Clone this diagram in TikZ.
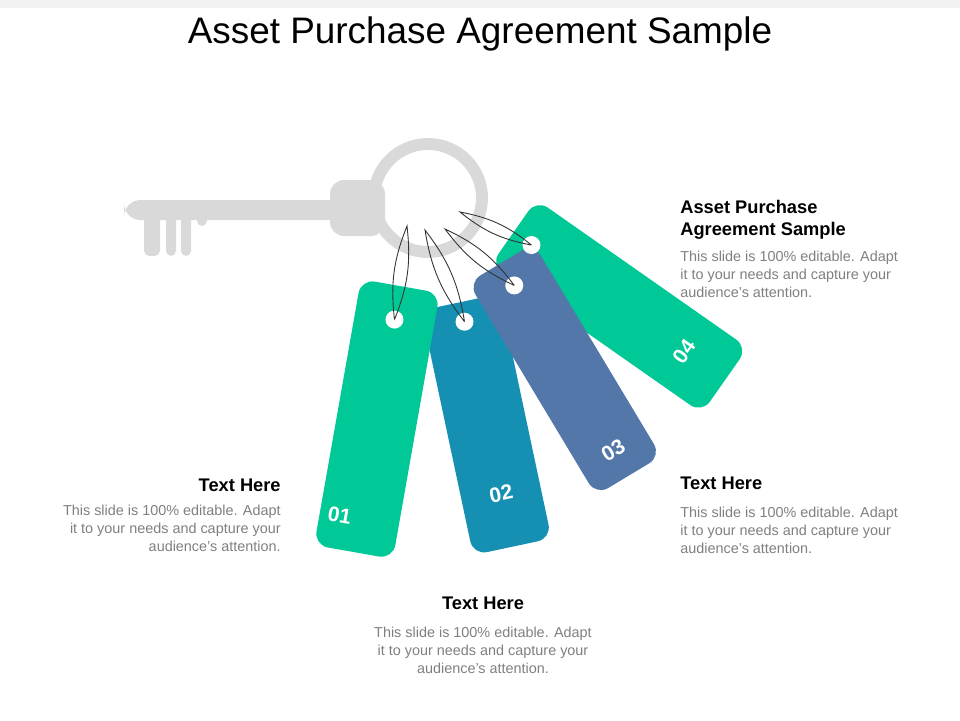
\documentclass[tikz,border=0pt]{standalone}
\usepackage{fontspec}
\setmainfont{Liberation Sans}
\definecolor{tagGreen}{HTML}{00C896}
\definecolor{tagTeal}{HTML}{1590B2}
\definecolor{tagSlate}{HTML}{5377A8}
\definecolor{keyGray}{HTML}{D9D9D9}
\definecolor{bodyGray}{HTML}{7F7F7F}
\tikzset{
  tagbox/.style={rounded corners=8, draw=none},
  taghole/.style={fill=white, draw=none},
  wire/.style={draw=black!80, line width=0.5pt},
  tagnum/.style={text=white, font=\bfseries\fontsize{12}{12}\selectfont},
  headtxt/.style={font=\bfseries\fontsize{10.4}{12.6}\selectfont, inner sep=0pt},
  bodytxt/.style={text=bodyGray, font=\fontsize{8.2}{10.2}\selectfont, inner sep=0pt}
}
\begin{document}
\begin{tikzpicture}[x=0.02cm, y=-0.02cm]
  \useasboundingbox (0,0) rectangle (960,720);
  \fill[black!5] (0,0) rectangle (960,8);
  % Title
  \node[font=\fontsize{21}{24}\selectfont] (title) at (480,34) {Asset Purchase Agreement Sample};

  % Key
  \fill[keyGray, rounded corners=9.5] (124,200) rectangle (345,220);
  \fill[keyGray, rounded corners=8] (330,180) rectangle (385,236);
  \fill[keyGray, rounded corners=3] (144,212) rectangle (160,256);
  \fill[keyGray, rounded corners=3] (166,212) rectangle (176,256);
  \fill[keyGray, rounded corners=3] (181,212) rectangle (191,256);
  \fill[keyGray, rounded corners=3] (197,212) rectangle (207,226);
  \draw[keyGray, line width=12*0.567pt] (428,198) circle (54);

  % Tags (back to front)
  \begin{scope}[shift={(520,237)}, rotate=55]
    \fill[tagGreen, tagbox] (-40,-8) rectangle (40,250);
    \coordinate (h4) at (0,14);
    \node[tagnum, rotate=55] (n4) at (0,200) {04};
  \end{scope}
  \begin{scope}[shift={(462,310)}, rotate=12]
    \fill[tagTeal, tagbox] (-40,-8) rectangle (40,242);
    \coordinate (h2) at (0,12);
    \node[tagnum, rotate=12] (n2) at (0,188) {02};
  \end{scope}
  \begin{scope}[shift={(505,270)}, rotate=31]
    \fill[tagSlate, tagbox] (-38,-8) rectangle (38,240);
    \coordinate (h3) at (0,18);
    \node[tagnum, rotate=31] (n3) at (0,210) {03};
  \end{scope}
  \begin{scope}[shift={(399,294)}, rotate=-10]
    \fill[tagGreen, tagbox] (-40,-8) rectangle (40,262);
    \coordinate (h1) at (0,26);
    \node[tagnum, rotate=-10] (n1) at (-20,228) {01};
  \end{scope}
  \foreach \h in {h1,h2,h3,h4}
    \fill[taghole] (\h) circle (9);

  % Wires to the ring
  \coordinate (r1) at (407,226);
  \coordinate (r2) at (425,230);
  \coordinate (r3) at (445,229);
  \coordinate (r4) at (460,212);
  \foreach \i in {1,2,3,4}
    \draw[wire] (h\i) to[bend left=14] (r\i) to[bend left=14] (h\i);

  % Text blocks
  \node[headtxt, anchor=north west, align=left] (head4) at (680,200) {Asset Purchase\\Agreement Sample};
  \node[bodytxt, anchor=north west, align=left] (body4) at (680,251) {This slide is 100\% editable. Adapt\\it to your needs and capture your\\audience's attention.};
  \node[headtxt, anchor=north west] (head3) at (680,477) {Text Here};
  \node[bodytxt, anchor=north west, align=left] (body3) at (680,507) {This slide is 100\% editable. Adapt\\it to your needs and capture your\\audience's attention.};
  \node[headtxt, anchor=north east] (head1) at (281,479) {Text Here};
  \node[bodytxt, anchor=north east, align=right] (body1) at (281,505) {This slide is 100\% editable. Adapt\\it to your needs and capture your\\audience's attention.};
  \node[headtxt, anchor=north] (head2) at (483,597) {Text Here};
  \node[bodytxt, anchor=north, align=center] (body2) at (483,627) {This slide is 100\% editable. Adapt\\it to your needs and capture your\\audience's attention.};
\end{tikzpicture}
\end{document}
